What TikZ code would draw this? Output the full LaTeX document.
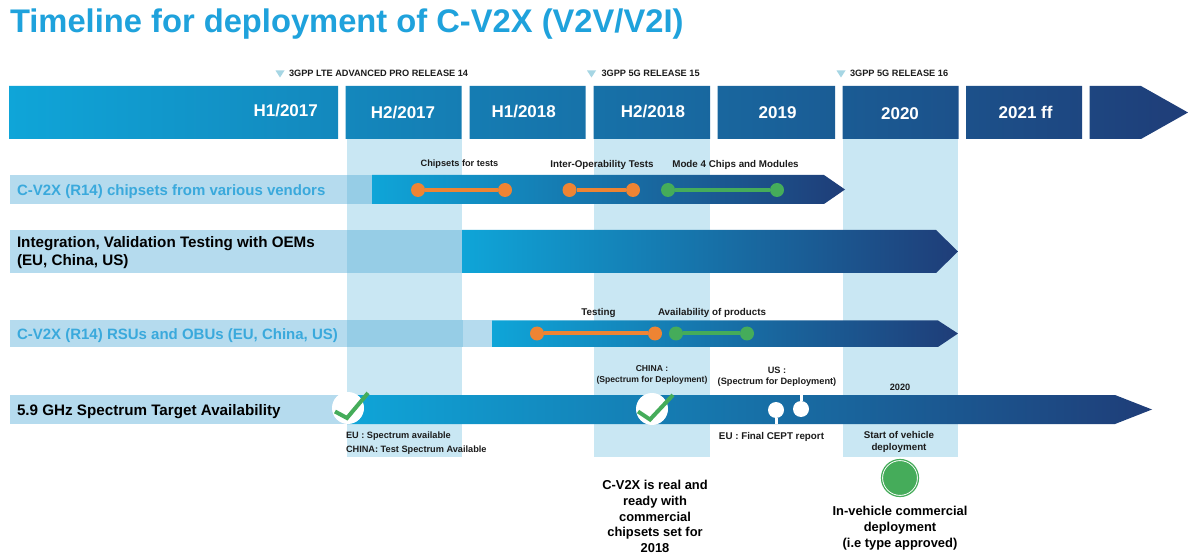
\documentclass[tikz,border=0pt]{standalone}
\usepackage{fontspec}
\setmainfont{Liberation Sans}
\definecolor{gstart}{HTML}{0FA5D8}
\definecolor{gend}{HTML}{1F3D78}
\definecolor{col}{HTML}{C9E7F3}
\definecolor{barlight}{HTML}{B5DBEE}
\definecolor{overlap}{HTML}{96CDE6}
\definecolor{titleblue}{HTML}{1FA2DC}
\definecolor{rowblue}{HTML}{3AA9DC}
\definecolor{orangeb}{HTML}{EE8433}
\definecolor{greenb}{HTML}{45AC5A}
\definecolor{tri}{HTML}{A6D6E4}
\definecolor{ink}{HTML}{1C1C1C}
\tikzset{
  x=1pt,y=-1pt,
  txt/.style={inner sep=0pt,outer sep=0pt,font=\bfseries},
  title/.style={txt,anchor=west,text=titleblue,font=\bfseries\fontsize{32.7}{36}\selectfont},
  period/.style={txt,text=white,font=\bfseries\fontsize{17}{20}\selectfont},
  release/.style={txt,anchor=west,text=ink,font=\bfseries\fontsize{9.2}{11}\selectfont},
  small/.style={txt,text=ink,align=center,font=\bfseries\fontsize{9.2}{11.5}\selectfont},
  smallw/.style={txt,text=ink,align=center,font=\bfseries\fontsize{9.8}{11.5}\selectfont},
  smalln/.style={txt,text=ink,align=center,font=\bfseries\fontsize{8.6}{11}\selectfont},
  rowblue/.style={txt,anchor=west,text=rowblue,font=\bfseries\fontsize{15}{18}\selectfont},
  rowblack/.style={txt,anchor=west,align=left,text=black,font=\bfseries\fontsize{15.2}{18}\selectfont},
  big/.style={txt,align=center,text=black,font=\bfseries\fontsize{12.9}{15.7}\selectfont},
  gradbar/.style={left color=gstart,right color=gend},
  odot/.style={circle,fill=orangeb,inner sep=0pt,minimum size=14pt},
  gdot/.style={circle,fill=greenb,inner sep=0pt,minimum size=14pt},
  olink/.style={draw=orangeb,line width=4pt},
  glink/.style={draw=greenb,line width=4pt},
  wcirc/.style={circle,fill=white,inner sep=0pt,minimum size=32pt},
  wdot/.style={circle,fill=white,inner sep=0pt,minimum size=16pt},
  stem/.style={draw=white,line width=3pt},
  checkm/.style={draw=greenb,line width=4pt},
}
\begin{document}
\begin{tikzpicture}
\useasboundingbox (0,0) rectangle (1200,553);
\fill[white] (0,0) rectangle (1200,553);
\node[title] (ttl) at (10,24) {Timeline for deployment of C-V2X (V2V/V2I)};
% columns
\fill[col] (347,139) rectangle (462,457);
\fill[col] (594,139) rectangle (710,457);
\fill[col] (843,139) rectangle (958,457);
% top band
\begin{scope}
\clip (9,86) rectangle (338,139)
      (345.5,86) rectangle (461.5,139)
      (469.5,86) rectangle (585.5,139)
      (593.5,86) rectangle (710,139)
      (717.5,86) rectangle (835,139)
      (842.5,86) rectangle (958.5,139)
      (966,86) rectangle (1082,139)
      (1089.5,86) -- (1141,86) -- (1188,112.5) -- (1141,139) -- (1089.5,139) -- cycle;
\shade[gradbar] (9,86) rectangle (1188,139);
\end{scope}
% release markers
\fill[tri] (275.5,70.5) -- (284.5,70.5) -- (280,77.5) -- cycle;
\fill[tri] (587,70.5) -- (596,70.5) -- (591.5,77.5) -- cycle;
\fill[tri] (836.5,70.5) -- (845.5,70.5) -- (841,77.5) -- cycle;
\node[release] (r14) at (289,73.5) {3GPP LTE ADVANCED PRO RELEASE 14};
\node[release] (r15) at (601.5,73.5) {3GPP 5G RELEASE 15};
\node[release] (r16) at (850,73.5) {3GPP 5G RELEASE 16};
\node[period] (p1) at (285.7,111) {H1/2017};
\node[period] (p2) at (403,113) {H2/2017};
\node[period] (p3) at (523.7,112) {H1/2018};
\node[period] (p4) at (653,112) {H2/2018};
\node[period] (p5) at (777.6,113) {2019};
\node[period] (p6) at (900,113.5) {2020};
\node[period] (p7) at (1025.6,112) {2021 ff};
% row 1
\fill[barlight] (10,175) rectangle (347,204);
\fill[overlap] (347,175) rectangle (372,204);
\shade[gradbar] (372,175) -- (824,175) -- (845,189.5) -- (824,204) -- (372,204) -- cycle;
\node[rowblue] (l1) at (17,191.5) {C-V2X (R14) chipsets from various vendors};
\node[odot] (a1) at (418,190) {};
\node[odot] (a2) at (505,190) {};
\node[odot] (b1) at (569.5,190) {};
\node[odot] (b2) at (633,190) {};
\node[gdot] (c1) at (668,190) {};
\node[gdot] (c2) at (777,190) {};
\draw[olink] (a1) -- (a2);
\draw[olink] (b1) -- (b2);
\draw[glink] (c1) -- (c2);
\node[small] (t1) at (459.5,164.5) {Chipsets for tests};
\node[smallw] (t2) at (602,164.5) {Inter-Operability Tests};
\node[smallw] (t3) at (735.5,164.5) {Mode 4 Chips and Modules};
% row 2
\fill[barlight] (10,230) rectangle (347,273);
\fill[overlap] (347,230) rectangle (462,273);
\shade[gradbar] (462,230) -- (936,230) -- (958,251.5) -- (936,273) -- (462,273) -- cycle;
\node[rowblack] (l2) at (17,252.5) {Integration, Validation Testing with OEMs\\(EU, China, US)};
% row 3
\fill[barlight] (10,320.5) rectangle (347,347);
\fill[overlap] (347,320.5) rectangle (463,347);
\fill[barlight] (463,320.5) rectangle (492,347);
\shade[gradbar] (492,320.5) -- (938,320.5) -- (958,333.5) -- (938,347) -- (492,347) -- cycle;
\node[rowblue] (l3) at (17,335.5) {C-V2X (R14) RSUs and OBUs (EU, China, US)};
\node[odot] (d1) at (537,333.5) {};
\node[odot] (d2) at (655,333.5) {};
\node[gdot] (e1) at (676,333.5) {};
\node[gdot] (e2) at (747,333.5) {};
\draw[olink] (d1) -- (d2);
\draw[glink] (e1) -- (e2);
\node[smallw] (t4) at (598.5,312.5) {Testing};
\node[smallw] (t5) at (712,312.5) {Availability of products};
% row 4
\fill[barlight] (10,395) rectangle (347,424);
\shade[gradbar] (347,395) -- (1115,395) -- (1152,409.5) -- (1115,424) -- (347,424) -- cycle;
\node[rowblack] (l4) at (17,411.5) {5.9 GHz Spectrum Target Availability};
\node[wcirc] (k1) at (348,408) {};
\node[wcirc] (k2) at (652,409) {};
\draw[checkm] (335,411.5) -- (347,418) -- (368,393);
\draw[checkm] (638,411.5) -- (650,419.5) -- (673,395);
\coordinate (s1) at (776,424);
\coordinate (s2) at (801,395);
\node[wdot] (w1) at (776,410) {};
\node[wdot] (w2) at (801,409) {};
\draw[stem] (w1) -- (s1);
\draw[stem] (w2) -- (s2);
\node[small,anchor=west] (n1) at (346,436.5) {EU :  Spectrum available};
\node[small,anchor=west] (n2) at (346,450.5) {CHINA: Test Spectrum Available};
\node[smalln] (n3) at (652,375) {CHINA :\\(Spectrum for Deployment)};
\node[small] (n4) at (777,376.5) {US :\\(Spectrum for Deployment)};
\node[small] (n5) at (900,387.5) {2020};
\node[smallw] (n6) at (771.5,437) {EU : Final CEPT report};
\node[smallw] (n7) at (899,442) {Start of vehicle\\deployment};
\node[big] (n8) at (655,516.5) {C-V2X is real and\\ready with\\commercial\\chipsets set for\\2018};
\node[circle,fill=greenb,draw=white,line width=1pt,minimum size=35pt,inner sep=0pt] (g) at (900,478) {};
\draw[greenb,line width=1.2pt] (g) circle (18.5);
\node[big] (n9) at (900,528) {In-vehicle commercial\\deployment\\(i.e type approved)};
\end{tikzpicture}
\end{document}
